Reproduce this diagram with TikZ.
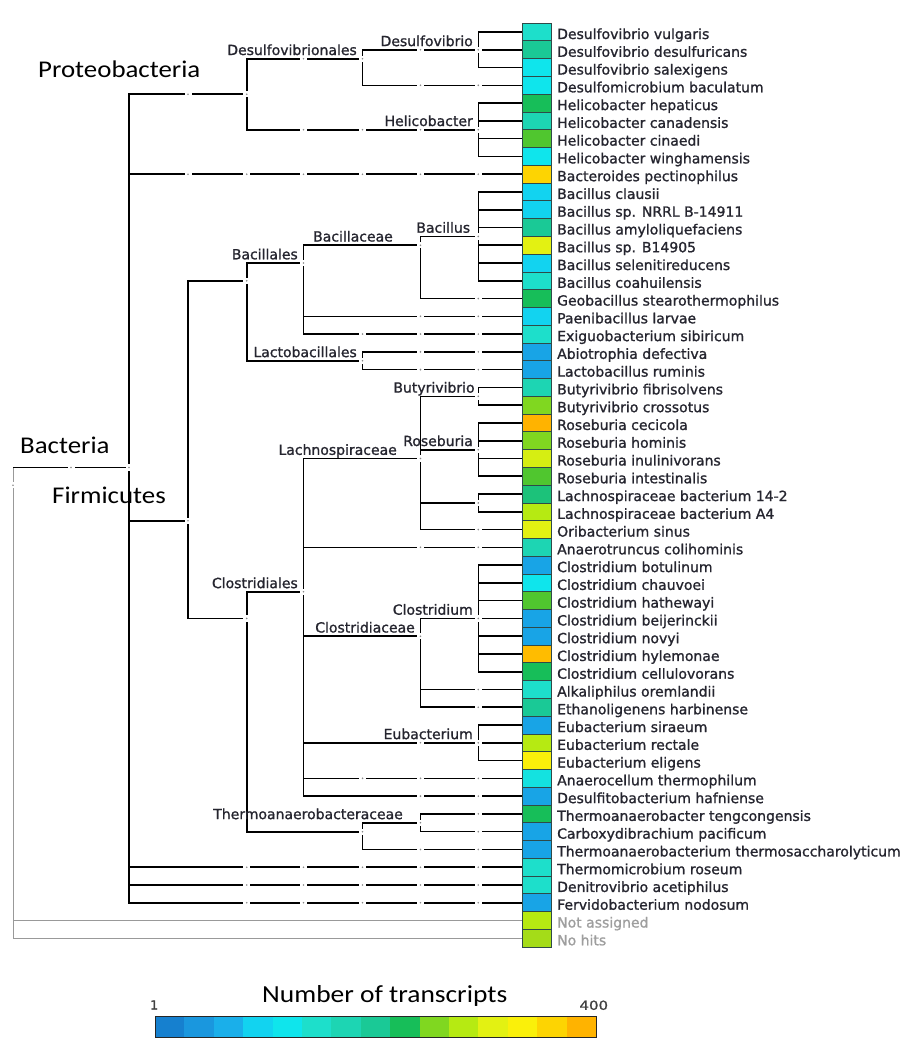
\documentclass[tikz,border=0pt]{standalone}
\usepackage{fontspec}
\usepackage{graphicx}
\usetikzlibrary{calc}
\newfontfamily\leaffont[FakeBold=1.2]{DejaVu Sans}
\newfontfamily\bigfont{Carlito}
\definecolor{txt}{HTML}{25252F}
\definecolor{dotc}{HTML}{8A8A8A}
\definecolor{boxedge}{HTML}{2F4A48}
\definecolor{k1}{HTML}{1680CF}
\definecolor{k2}{HTML}{1A97DE}
\definecolor{k3}{HTML}{1AAFEA}
\definecolor{k4}{HTML}{12D3F0}
\definecolor{k5}{HTML}{0FE5EC}
\definecolor{k6}{HTML}{1DDFCB}
\definecolor{k7}{HTML}{1DD5B3}
\definecolor{k8}{HTML}{1AC996}
\definecolor{k9}{HTML}{17BE59}
\definecolor{k10}{HTML}{80D720}
\definecolor{k11}{HTML}{B6EA12}
\definecolor{k12}{HTML}{E3F112}
\definecolor{k13}{HTML}{FAF00A}
\definecolor{k14}{HTML}{FDD402}
\definecolor{k15}{HTML}{FFB300}
\definecolor{kb}{HTML}{18A4E6}
\definecolor{kg}{HTML}{50C62F}
\definecolor{ky}{HTML}{D6EE12}
\definecolor{kt}{HTML}{1CC27A}
\definecolor{ko}{HTML}{FFBC00}
\definecolor{kc}{HTML}{14E2E0}
\definecolor{kn}{HTML}{A4DC18}
\newcommand\gapdot[2]{\fill[white] ({#1-3.5},{#2-3.2}) rectangle ({#1+3.5},{#2+3.2});\fill[dotc] (#1,#2) circle (0.9);}
\begin{document}
\begin{tikzpicture}[x=1pt,y=-1pt,
  tree/.style={line width=1.6pt,black},
  gline/.style={line width=0.9pt,color=black!40},
  lbl/.style={font=\leaffont\fontsize{14}{16}\selectfont,text=txt,inner sep=0pt,anchor=base east},
  leaf/.style={font=\leaffont\fontsize{14}{16}\selectfont,text=txt,inner sep=0pt,anchor=base west},
  box/.style={draw=boxedge,line width=0.8pt,minimum width=29pt,minimum height=17.77pt,inner sep=0pt},
  big/.style={font=\bigfont\fontsize{24}{28}\selectfont,inner sep=0pt,anchor=base west},
  small/.style={font=\leaffont\fontsize{12.5}{14}\selectfont,text=black!75,inner sep=0pt}]
\useasboundingbox (0,0) rectangle (914,1050);

% ---------- leaves ----------
\foreach \i/\nm/\cc in {
0/Desulfovibrio vulgaris/k6,
1/Desulfovibrio desulfuricans/k8,
2/Desulfovibrio salexigens/k5,
3/Desulfomicrobium baculatum/k5,
4/Helicobacter hepaticus/k9,
5/Helicobacter canadensis/k7,
6/Helicobacter cinaedi/kg,
7/Helicobacter winghamensis/k5,
8/Bacteroides pectinophilus/k14,
9/Bacillus clausii/k4,
10/Bacillus sp. NRRL B-14911/k4,
11/Bacillus amyloliquefaciens/k8,
12/Bacillus sp. B14905/k12,
13/Bacillus selenitireducens/k4,
14/Bacillus coahuilensis/k6,
15/Geobacillus stearothermophilus/k9,
16/Paenibacillus larvae/k4,
17/Exiguobacterium sibiricum/k6,
18/Abiotrophia defectiva/kb,
19/Lactobacillus ruminis/kb,
20/Butyrivibrio fibrisolvens/k7,
21/Butyrivibrio crossotus/k10,
22/Roseburia cecicola/k15,
23/Roseburia hominis/k10,
24/Roseburia inulinivorans/ky,
25/Roseburia intestinalis/kg,
26/Lachnospiraceae bacterium 14-2/kt,
27/Lachnospiraceae bacterium A4/k11,
28/Oribacterium sinus/k12,
29/Anaerotruncus colihominis/k7,
30/Clostridium botulinum/kb,
31/Clostridium chauvoei/k5,
32/Clostridium hathewayi/kg,
33/Clostridium beijerinckii/kb,
34/Clostridium novyi/kb,
35/Clostridium hylemonae/ko,
36/Clostridium cellulovorans/k9,
37/Alkaliphilus oremlandii/k6,
38/Ethanoligenens harbinense/k8,
39/Eubacterium siraeum/kb,
40/Eubacterium rectale/k11,
41/Eubacterium eligens/k13,
42/Anaerocellum thermophilum/kc,
43/Desulfitobacterium hafniense/kb,
44/Thermoanaerobacter tengcongensis/k9,
45/Carboxydibrachium pacificum/kb,
46/Thermoanaerobacterium thermosaccharolyticum/kb,
47/Thermomicrobium roseum/k6,
48/Denitrovibrio acetiphilus/k6,
49/Fervidobacterium nodosum/kb}{
  \pgfmathsetmacro\yy{32+17.77*\i}
  \node[box,fill=\cc] (b\i) at (537.2,\yy) {};
  \node[leaf] (t\i) at (557,\yy+7) {\nm};
}
\foreach \i/\nm/\cc in {50/Not assigned/k11,51/No hits/kn}{
  \pgfmathsetmacro\yy{32+17.77*\i}
  \node[box,fill=\cc] (b\i) at (537.2,\yy) {};
  \node[leaf,text=black!38] (t\i) at (557,\yy+7) {\nm};
}

% ---------- internal nodes ----------
\coordinate (root) at (13,485.2);
\coordinate (bact) at (129,467.4);
\coordinate (proteo) at (246.7,94.2);
\coordinate (dvales) at (362.5,58.7);
\coordinate (dvib) at (478.3,49.8);
\coordinate (helico) at (478.3,129.7);
\coordinate (firm) at (188,520.7);
\coordinate (bacilli) at (246.7,280.8);
\coordinate (bacillales) at (303.5,263);
\coordinate (bacillaceae) at (420.5,245.2);
\coordinate (bacillus) at (478.3,236.4);
\coordinate (lactob) at (362.5,360.8);
\coordinate (clostridia) at (246.7,618.4);
\coordinate (clales) at (303.5,591.8);
\coordinate (lachno) at (420.5,458.5);
\coordinate (butyr) at (478.3,396.3);
\coordinate (roseb) at (478.3,449.7);
\coordinate (lachbac) at (478.3,502.9);
\coordinate (clfam) at (420.5,636.2);
\coordinate (clost) at (478.3,618.4);
\coordinate (eubac) at (478.3,742.8);
\coordinate (thermfam) at (362.5,831.7);
\coordinate (thermA) at (420.5,822.8);

% ---------- connectors ----------
\draw[gline] (root |- bact) -- (root);
\draw[gline] (root) |- (b50.west);
\draw[gline] (root) |- (b51.west);
\draw[tree] (root |- bact) -- (bact);
\draw[tree] (bact) |- (proteo);
\draw[tree] (bact) |- (b8.west);
\draw[tree] (bact) |- (firm);
\foreach \i in {47,48,49} \draw[tree] (bact) |- (b\i.west);
\draw[tree] (proteo) |- (dvales);
\draw[tree] (proteo) |- (helico);
\draw[tree] (dvales) |- (dvib);
\draw[tree] (dvales) |- (b3.west);
\foreach \i in {0,1,2} \draw[tree] (dvib) |- (b\i.west);
\foreach \i in {4,...,7} \draw[tree] (helico) |- (b\i.west);
\draw[tree] (firm) |- (bacilli);
\draw[tree] (firm) |- (clostridia);
\draw[tree] (bacilli) |- (bacillales);
\draw[tree] (bacilli) |- (lactob);
\draw[tree] (bacillales) |- (bacillaceae);
\draw[tree] (bacillales) |- (b16.west);
\draw[tree] (bacillales) |- (b17.west);
\draw[tree] (bacillaceae) |- (bacillus);
\draw[tree] (bacillaceae) |- (b15.west);
\foreach \i in {9,...,14} \draw[tree] (bacillus) |- (b\i.west);
\foreach \i in {18,19} \draw[tree] (lactob) |- (b\i.west);
\draw[tree] (clostridia) |- (clales);
\draw[tree] (clostridia) |- (thermfam);
\draw[tree] (clales) |- (lachno);
\draw[tree] (clales) |- (b29.west);
\draw[tree] (clales) |- (clfam);
\draw[tree] (clales) |- (eubac);
\draw[tree] (clales) |- (b42.west);
\draw[tree] (clales) |- (b43.west);
\draw[tree] (lachno) |- (butyr);
\draw[tree] (lachno) |- (roseb);
\draw[tree] (lachno) |- (lachbac);
\draw[tree] (lachno) |- (b28.west);
\foreach \i in {20,21} \draw[tree] (butyr) |- (b\i.west);
\foreach \i in {22,...,25} \draw[tree] (roseb) |- (b\i.west);
\foreach \i in {26,27} \draw[tree] (lachbac) |- (b\i.west);
\draw[tree] (clfam) |- (clost);
\draw[tree] (clfam) |- (b37.west);
\draw[tree] (clfam) |- (b38.west);
\foreach \i in {30,...,36} \draw[tree] (clost) |- (b\i.west);
\foreach \i in {39,40,41} \draw[tree] (eubac) |- (b\i.west);
\draw[tree] (thermfam) |- (thermA);
\draw[tree] (thermfam) |- (b46.west);
\foreach \i in {44,45} \draw[tree] (thermA) |- (b\i.west);

% ---------- node markers ----------
\foreach \p in {root,bact,proteo,dvales,dvib,helico,firm,bacilli,bacillales,bacillaceae,bacillus,lactob,clostridia,clales,lachno,butyr,roseb,lachbac,clfam,clost,eubac,thermfam,thermA}{
  \fill[white] ($(\p)+(-3.5,-3.2)$) rectangle ($(\p)+(3.5,3.2)$);
  \fill[dotc] (\p) circle (0.9);
}
% pass-through markers on node edges
\gapdot{71}{467.4}
\gapdot{188}{94.2}
\gapdot{303.5}{58.7}
\gapdot{420.5}{49.8}
\gapdot{303.5}{129.7}
\gapdot{362.5}{129.7}
\gapdot{420.5}{129.7}
\gapdot{420.5}{742.8}
% pass-through markers on leaf edges (column / row)
\foreach \c/\r in {188/8,246.7/8,303.5/8,362.5/8,420.5/8,478.3/8,
  246.7/47,303.5/47,362.5/47,420.5/47,478.3/47,
  246.7/48,303.5/48,362.5/48,420.5/48,478.3/48,
  246.7/49,303.5/49,362.5/49,420.5/49,478.3/49,
  420.5/3,478.3/3,
  478.3/15,420.5/16,478.3/16,362.5/17,420.5/17,478.3/17,
  420.5/18,478.3/18,420.5/19,478.3/19,
  478.3/28,420.5/29,478.3/29,478.3/37,478.3/38,
  362.5/42,420.5/42,478.3/42,420.5/43,478.3/43,
  478.3/44,478.3/45,420.5/46,478.3/46}{
  \pgfmathsetmacro\yy{32+17.77*\r}
  \gapdot{\c}{\yy}
}

% ---------- taxon labels ----------
\node[lbl] (l-dvales) at ($(dvales)+(-5.5,-3.7)$) {Desulfovibrionales};
\node[lbl] (l-dvib) at ($(dvib)+(-5.3,-3.7)$) {Desulfovibrio};
\node[lbl] (l-helico) at ($(helico)+(-5.3,-3.7)$) {Helicobacter};
\node[lbl] (l-bacillales) at ($(bacillales)+(-5.5,-3.7)$) {Bacillales};
\node[lbl] (l-bacillaceae) at ($(bacillaceae)+(-27.5,-3.7)$) {Bacillaceae};
\node[lbl] (l-bacillus) at ($(bacillus)+(-8,-3.7)$) {Bacillus};
\node[lbl] (l-lactob) at ($(lactob)+(-5.5,-3.7)$) {Lactobacillales};
\node[lbl] (l-butyr) at ($(butyr)+(-3.5,-3.7)$) {Butyrivibrio};
\node[lbl] (l-roseb) at ($(roseb)+(-5.3,-3.7)$) {Roseburia};
\node[lbl] (l-lachno) at ($(lachno)+(-23.5,-3.7)$) {Lachnospiraceae};
\node[lbl] (l-clales) at ($(clales)+(-5.5,-3.7)$) {Clostridiales};
\node[lbl] (l-clost) at ($(clost)+(-5.3,-3.7)$) {Clostridium};
\node[lbl] (l-clfam) at ($(clfam)+(-5.5,-3.7)$) {Clostridiaceae};
\node[lbl] (l-eubac) at ($(eubac)+(-5.3,-3.7)$) {Eubacterium};
\node[lbl] (l-thermA) at ($(thermA)+(-17.5,-3.7)$) {Thermoanaerobacteraceae};

% ---------- big labels ----------
\node[big] (proteobacteria) at (38,77.3) {\scalebox{1.12}[1]{Proteobacteria}};
\node[big] (bacteria) at (20,453) {\scalebox{1.12}[1]{Bacteria}};
\node[big] (firmicutes) at (52,503) {\scalebox{1.12}[1]{Firmicutes}};
\node[big,font=\bigfont\fontsize{24.5}{28}\selectfont] (ntitle) at (262,1002.5) {\scalebox{1.12}[1]{Number of transcripts}};

% ---------- colour scale ----------
\foreach \k [count=\n from 0] in {k1,k2,k3,k4,k5,k6,k7,k8,k9,k10,k11,k12,k13,k14,k15}
  \fill[\k] ({155+29.4*\n},1016) rectangle ++(29.5,20.7);
\node[draw=black!85,line width=0.9pt,minimum width=441pt,minimum height=20.7pt,inner sep=0pt,anchor=north west] (bar) at (155,1016) {};
\node[small,anchor=base west] (lo) at (150,1009.5) {1};
\node[small,anchor=base east] (hi) at (608.3,1009.8) {\scalebox{1.2}[1]{400}};
\end{tikzpicture}
\end{document}
